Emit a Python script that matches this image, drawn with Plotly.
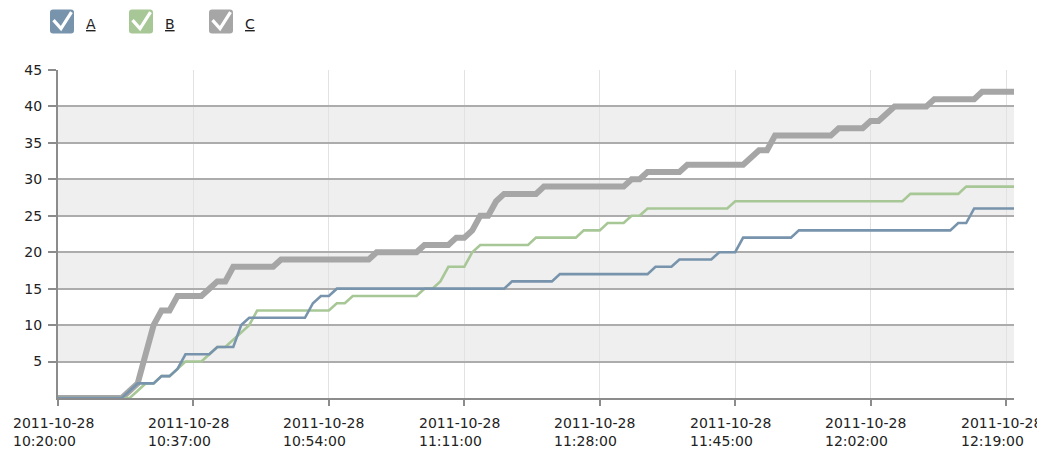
import plotly.graph_objects as go
import pandas as pd

# ---------------- data ----------------
START_TIME = "2011-10-28 10:20:00"
SERIES_NAMES = ["A", "B", "C"]

A_VALUES = [0, 0, 0, 0, 0, 0, 0, 0, 0,
            1, 2, 2, 2, 3, 3, 4, 6, 6, 6, 6, 7, 7, 7,
            10,
            11, 11, 11, 11, 11, 11, 11, 11,
            13, 14, 14,
            15, 15, 15, 15, 15, 15, 15, 15, 15, 15, 15, 15, 15, 15, 15, 15, 15, 15, 15, 15, 15, 15,
            16, 16, 16, 16, 16, 16,
            17, 17, 17, 17, 17, 17, 17, 17, 17, 17, 17, 17,
            18, 18, 18,
            19, 19, 19, 19, 19,
            20, 20, 20,
            22, 22, 22, 22, 22, 22, 22,
            23, 23, 23, 23, 23, 23, 23, 23, 23, 23, 23, 23, 23, 23, 23, 23, 23, 23, 23, 23,
            24, 24,
            26, 26, 26, 26, 26, 26]

B_VALUES = [0, 0, 0, 0, 0, 0, 0, 0, 0,
            0, 1, 2, 2, 3, 3, 4, 5, 5, 5, 6, 7, 7, 8, 9, 10,
            12, 12, 12, 12, 12, 12, 12, 12, 12, 12,
            13, 13,
            14, 14, 14, 14, 14, 14, 14, 14, 14,
            15, 15,
            16,
            18, 18, 18,
            20,
            21, 21, 21, 21, 21, 21, 21,
            22, 22, 22, 22, 22, 22,
            23, 23, 23,
            24, 24, 24,
            25, 25,
            26, 26, 26, 26, 26, 26, 26, 26, 26, 26, 26,
            27, 27, 27, 27, 27, 27, 27, 27, 27, 27, 27, 27, 27, 27, 27, 27, 27, 27, 27, 27, 27, 27,
            28, 28, 28, 28, 28, 28, 28,
            29, 29, 29, 29, 29, 29, 29]

C_VALUES = [0, 0, 0, 0, 0, 0, 0, 0, 0,
            1, 2, 6, 10, 12, 12, 14, 14, 14, 14, 15, 16, 16, 18,
            18, 18, 18, 18, 18,
            19, 19, 19, 19, 19, 19, 19, 19, 19, 19, 19, 19,
            20, 20, 20, 20, 20, 20,
            21, 21, 21, 21,
            22, 22,
            23,
            25, 25,
            27,
            28, 28, 28, 28, 28,
            29, 29, 29, 29, 29, 29, 29, 29, 29, 29, 29,
            30, 30,
            31, 31, 31, 31, 31,
            32, 32, 32, 32, 32, 32, 32, 32,
            33,
            34, 34,
            36, 36, 36, 36, 36, 36, 36, 36,
            37, 37, 37, 37,
            38, 38,
            39,
            40, 40, 40, 40, 40,
            41, 41, 41, 41, 41, 41,
            42, 42, 42, 42, 42]

Y_TICKS = [5, 10, 15, 20, 25, 30, 35, 40, 45]
BAND_STARTS = [5, 15, 25, 35]
X_TICKS = ["2011-10-28 10:20:00", "2011-10-28 10:37:00", "2011-10-28 10:54:00",
           "2011-10-28 11:11:00", "2011-10-28 11:28:00", "2011-10-28 11:45:00",
           "2011-10-28 12:02:00", "2011-10-28 12:19:00"]
X_TICK_LABELS = ["2011-10-28<br>10:20:00", "2011-10-28<br>10:37:00", "2011-10-28<br>10:54:00",
                 "2011-10-28<br>11:11:00", "2011-10-28<br>11:28:00", "2011-10-28<br>11:45:00",
                 "2011-10-28<br>12:02:00", "2011-10-28<br>12:19:00"]
X_RANGE = ["2011-10-28 10:20:00", "2011-10-28 12:20:00"]

# ---------------- style ----------------
COLORS = {"A": "#7794ac", "B": "#a8c796", "C": "#a6a6a6"}
WIDTHS = {"A": 2.6, "B": 2.6, "C": 6}
FONT = "DejaVu Sans"
TEXT_COLOR = "#222222"

# the page body adds an 8px margin, so the figure is placed at (8, 8) in the window
OFF = 8
WIN_W, WIN_H = 1045, 453
FIG_W, FIG_H = WIN_W - OFF, WIN_H - OFF
# plot area in window pixels: x 58..1014, y 69.5..398
M_L = 58 - OFF
M_T = 69.5 - OFF
M_R = WIN_W - 1014
M_B = WIN_H - 398
PW = FIG_W - M_L - M_R
PH = FIG_H - M_T - M_B


def px(xw):
    return (xw - OFF - M_L) / PW


def py(yw):
    return (FIG_H - M_B - (yw - OFF)) / PH


values = {"A": A_VALUES, "B": B_VALUES, "C": C_VALUES}

fig = go.Figure()
for name in ["C", "B", "A"]:
    vals = values[name]
    times = pd.date_range(START_TIME, periods=len(vals), freq="min")
    fig.add_trace(go.Scatter(
        x=times, y=vals, mode="lines", name=name,
        line=dict(color=COLORS[name], width=WIDTHS[name]),
        showlegend=False,
    ))

shapes = []
for lo in BAND_STARTS:
    shapes.append(dict(type="rect", xref="paper", yref="y", x0=0, x1=1, y0=lo, y1=lo + 5,
                       fillcolor="#efefef", line=dict(width=0), layer="below"))

annotations = []
# legend with check boxes (window pixel positions)
legend_pos = {"A": 50, "B": 129, "C": 209}
for name in SERIES_NAMES:
    x0 = legend_pos[name]
    x1 = x0 + 24
    y0, y1 = 9, 33
    r = 3
    path = (f"M {px(x0 + r)},{py(y0)} L {px(x1 - r)},{py(y0)} Q {px(x1)},{py(y0)} {px(x1)},{py(y0 + r)} "
            f"L {px(x1)},{py(y1 - r)} Q {px(x1)},{py(y1)} {px(x1 - r)},{py(y1)} "
            f"L {px(x0 + r)},{py(y1)} Q {px(x0)},{py(y1)} {px(x0)},{py(y1 - r)} "
            f"L {px(x0)},{py(y0 + r)} Q {px(x0)},{py(y0)} {px(x0 + r)},{py(y0)} Z")
    shapes.append(dict(type="path", xref="paper", yref="paper", path=path,
                       fillcolor=COLORS[name], line=dict(width=0), layer="above"))
    check = (f"M {px(x0 + 3.5)},{py(19.5)} L {px(x0 + 11)},{py(28)} L {px(x0 + 21.5)},{py(11.5)}")
    shapes.append(dict(type="path", xref="paper", yref="paper", path=check,
                       line=dict(color="white", width=3.2), layer="above"))
    annotations.append(dict(xref="paper", yref="paper", x=px(x0 + 34), y=py(23),
                            xanchor="left", yanchor="middle", showarrow=False,
                            text=f"<u>{name}</u>",
                            font=dict(family=FONT, size=14, color=TEXT_COLOR)))

# x tick labels (left aligned two-line blocks)
for t, lab in zip(X_TICKS, X_TICK_LABELS):
    annotations.append(dict(xref="x", yref="paper", x=t, y=0, xanchor="center", yanchor="top",
                            align="left", showarrow=False, text=lab, yshift=-15, xshift=-5,
                            font=dict(family=FONT, size=14, color=TEXT_COLOR)))

fig.update_layout(
    width=FIG_W, height=FIG_H,
    margin=dict(l=M_L, r=M_R, t=M_T, b=M_B, pad=0, autoexpand=False),
    paper_bgcolor="white", plot_bgcolor="white",
    shapes=shapes, annotations=annotations,
    font=dict(family=FONT, size=14, color=TEXT_COLOR),
    showlegend=False,
)
fig.update_xaxes(
    type="date", range=X_RANGE, tickvals=X_TICKS, showticklabels=False,
    showgrid=True, gridcolor="#e2e2e2", gridwidth=1,
    showline=True, linecolor="#8c8c8c", linewidth=2,
    ticks="outside", ticklen=6, tickcolor="#8c8c8c", tickwidth=1.5,
    zeroline=False,
)
fig.update_yaxes(
    range=[0, 45], tickvals=Y_TICKS,
    showgrid=True, gridcolor="#acacac", gridwidth=1.5,
    showline=True, linecolor="#8c8c8c", linewidth=2,
    ticks="outside", ticklen=8, tickcolor="#8c8c8c", tickwidth=1.5,
    ticklabelstandoff=3,
    zeroline=False,
    tickfont=dict(family=FONT, size=14, color=TEXT_COLOR),
)

fig.write_html("out.html")
